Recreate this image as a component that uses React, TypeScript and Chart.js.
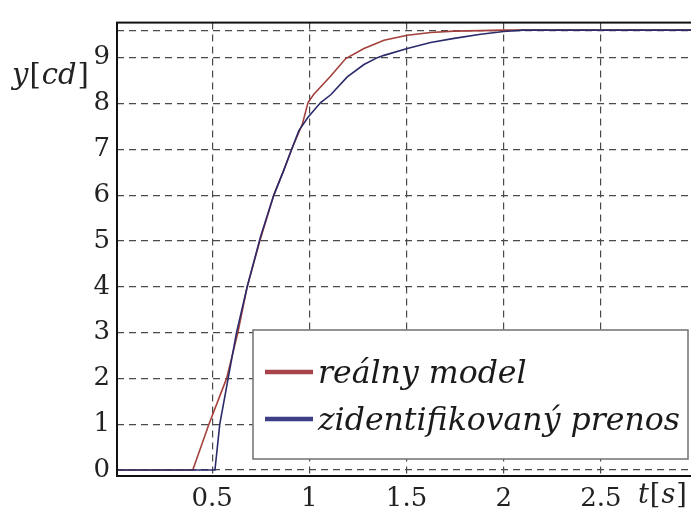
import React, { useEffect, useRef } from "react";
import { Chart, registerables } from "chart.js";

Chart.register(...registerables);

// ---- data ----
const TIME_REAL = [0, 0.4, 0.483, 0.574, 0.632, 0.68, 0.745, 0.817, 0.869, 0.909, 0.964, 0.993, 1.023, 1.11, 1.187, 1.281, 1.384, 1.504, 1.624, 1.745, 1.882, 2.0, 3.0];
const VALUES_REAL = [0, 0, 1, 2, 3, 4, 5, 6, 6.55, 7.0, 7.55, 8.02, 8.2, 8.6, 8.98, 9.2, 9.38, 9.49, 9.55, 9.58, 9.59, 9.6, 9.6];

const TIME_IDENT = [0, 0.514, 0.539, 0.582, 0.625, 0.68, 0.749, 0.817, 0.869, 0.909, 0.946, 0.993, 1.058, 1.11, 1.195, 1.281, 1.35, 1.384, 1.504, 1.624, 1.745, 1.882, 2.0, 2.1, 3.0];
const VALUES_IDENT = [0, 0, 1, 2, 3, 4, 5.1, 6, 6.55, 7.0, 7.41, 7.7, 8.02, 8.19, 8.58, 8.85, 9.0, 9.05, 9.2, 9.33, 9.42, 9.51, 9.57, 9.6, 9.6];

const X_TICKS = [0.5, 1, 1.5, 2, 2.5];
const Y_TICKS = [0, 1, 2, 3, 4, 5, 6, 7, 8, 9];
const STEADY_STATE = 9.6;

const SERIES_LABELS = ["reálny model", "zidentifikovaný prenos"];
const SERIES_COLORS = ["#a3403c", "#2b2b6b"];
const LEGEND_COLORS = ["#a8434a", "#3d3f86"];

const FONT = '"DejaVu Serif", serif';

type Part = { t: string; it: boolean };
const Y_TITLE: Part[] = [
  { t: "y", it: true },
  { t: "[", it: false },
  { t: "cd", it: true },
  { t: "]", it: false },
];
const X_TITLE: Part[] = [
  { t: "t", it: true },
  { t: "[", it: false },
  { t: "s", it: true },
  { t: "]", it: false },
];

function drawParts(ctx: CanvasRenderingContext2D, parts: Part[], x: number, y: number, size: number) {
  let cx = x;
  ctx.textBaseline = "alphabetic";
  ctx.textAlign = "left";
  for (const p of parts) {
    ctx.font = `${p.it ? "italic " : ""}${size}px ${FONT}`;
    ctx.fillText(p.t, cx, y);
    cx += ctx.measureText(p.t).width + 1;
  }
}

const overlayPlugin = {
  id: "overlay",
  afterDatasetsDraw(chart: any) {
    const { ctx, chartArea: a } = chart;
    ctx.save();
    // frame
    ctx.strokeStyle = "#111";
    ctx.lineWidth = 2;
    ctx.setLineDash([]);
    ctx.strokeRect(a.left, a.top, a.right - a.left, a.bottom - a.top);

    // legend box
    const bx = 253, by = 330, bw = 435, bh = 129;
    ctx.fillStyle = "#ffffff";
    ctx.fillRect(bx, by, bw, bh);
    ctx.strokeStyle = "#707070";
    ctx.lineWidth = 1.5;
    ctx.strokeRect(bx, by, bw, bh);

    // legend font size fitted to the reference width
    ctx.font = `italic 100px ${FONT}`;
    const w100 = ctx.measureText(SERIES_LABELS[1]).width;
    const fs = Math.min(34, (100 * 362) / w100);
    const rows = [372, 419];
    SERIES_LABELS.forEach((lab, i) => {
      ctx.strokeStyle = LEGEND_COLORS[i];
      ctx.lineWidth = 4.5;
      ctx.beginPath();
      ctx.moveTo(265, rows[i]);
      ctx.lineTo(313, rows[i]);
      ctx.stroke();
      ctx.fillStyle = "#1a1a1a";
      ctx.font = `italic ${fs}px ${FONT}`;
      ctx.textBaseline = "alphabetic";
      ctx.textAlign = "left";
      ctx.fillText(lab, 318, rows[i] + 11);
    });

    // axis titles
    ctx.fillStyle = "#222";
    drawParts(ctx, Y_TITLE, 12, 84, 29);
    drawParts(ctx, X_TITLE, 638, 503, 27);
    ctx.restore();
  },
};

export default function App() {
  const ref = useRef<HTMLCanvasElement | null>(null);

  useEffect(() => {
    document.body.style.margin = "0";
    const canvas = ref.current;
    if (!canvas) return;
    const chart = new Chart(canvas, {
      type: "scatter",
      data: {
        datasets: [
          {
            label: SERIES_LABELS[0],
            data: TIME_REAL.map((t, i) => ({ x: t, y: VALUES_REAL[i] })),
            showLine: true,
            borderColor: SERIES_COLORS[0],
            backgroundColor: SERIES_COLORS[0],
            borderWidth: 1.6,
            pointRadius: 0,
            tension: 0,
            order: 1,
          },
          {
            label: SERIES_LABELS[1],
            data: TIME_IDENT.map((t, i) => ({ x: t, y: VALUES_IDENT[i] })),
            showLine: true,
            borderColor: SERIES_COLORS[1],
            backgroundColor: SERIES_COLORS[1],
            borderWidth: 1.6,
            pointRadius: 0,
            tension: 0,
            order: 0,
          },
        ],
      },
      options: {
        animation: false,
        responsive: false,
        events: [],
        layout: { padding: { top: 13, right: 2, left: 0, bottom: 0 } },
        plugins: { legend: { display: false }, tooltip: { enabled: false } },
        scales: {
          x: {
            type: "linear",
            min: 0.01,
            max: 3.0,
            afterBuildTicks: (s: any) => {
              s.ticks = X_TICKS.map((v) => ({ value: v }));
            },
            afterFit: (s: any) => {
              s.height = 36;
            },
            ticks: {
              padding: 8,
              color: "#222",
              font: { family: FONT, size: 26 },
              maxRotation: 0,
              autoSkip: false,
              callback: (v: any) => String(v),
            },
            grid: { color: "#4a4a4a", lineWidth: 1.2, drawTicks: false },
            border: { display: false, dash: [7, 5] },
          },
          y: {
            type: "linear",
            min: -0.13,
            max: 9.765,
            afterBuildTicks: (s: any) => {
              s.ticks = Y_TICKS.concat([STEADY_STATE]).map((v) => ({ value: v }));
            },
            afterFit: (s: any) => {
              s.width = 117;
            },
            ticks: {
              padding: 7,
              color: "#222",
              font: { family: FONT, size: 26 },
              autoSkip: false,
              callback: (v: any) => (Number.isInteger(v) ? String(v) : ""),
            },
            grid: { color: "#4a4a4a", lineWidth: 1.2, drawTicks: false },
            border: { display: false, dash: [7, 5] },
          },
        },
      },
      plugins: [overlayPlugin],
    });
    return () => chart.destroy();
  }, []);

  return (
    <div style={{ width: 691, height: 512, overflow: "hidden", position: "relative", background: "#fff" }}>
      <canvas ref={ref} width={700} height={512} style={{ display: "block", width: 700, height: 512 }} />
    </div>
  );
}
